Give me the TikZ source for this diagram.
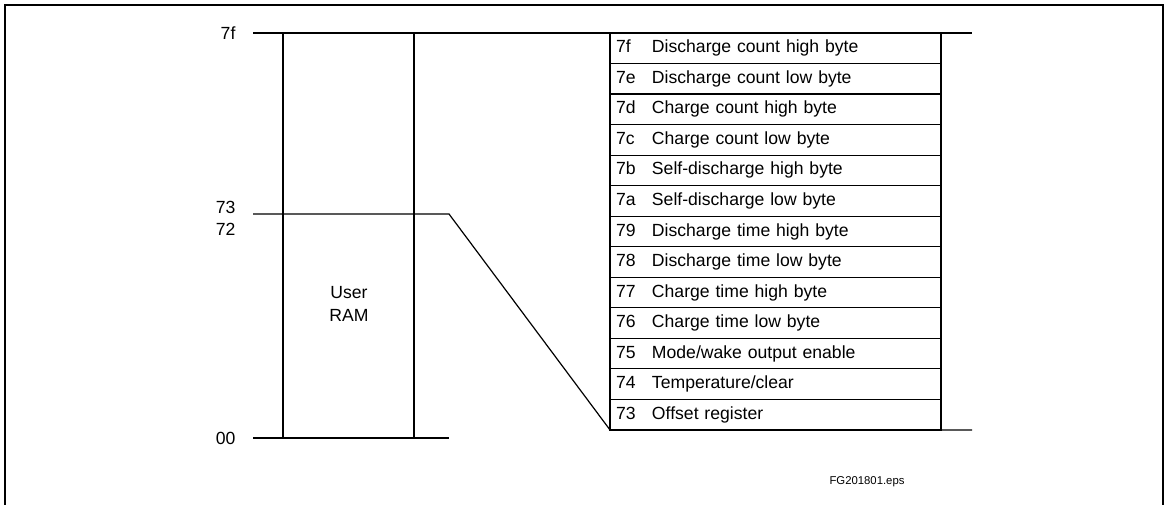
\documentclass[tikz,border=0pt]{standalone}
\usepackage{fontspec}
\setmainfont{Liberation Sans}
\usetikzlibrary{positioning}

\begin{document}
\begin{tikzpicture}[x=0.75pt,y=-0.75pt,line width=0.9pt,
    font=\fontsize{13.2}{17}\selectfont,
    addr/.style={anchor=east,inner sep=0pt},
    rowbox/.style={draw,anchor=north west,outer sep=0pt,inner xsep=4.5pt,
      minimum height=22.9pt,text width=239.25pt,align=left}]

    \useasboundingbox (0,0) rectangle (1168,505);
    \draw[line width=1.1pt] (5,505) -- (5,5) -- (1163,5) -- (1163,505);

    % register table
    \node[rowbox] (r1) at (610,33) {\makebox[27pt][l]{7f}Discharge count high byte};
    \foreach \code/\desc [count=\i from 2, remember=\i as \j (initially 1)] in {
        7e/Discharge count low byte, 7d/Charge count high byte,
        7c/Charge count low byte, 7b/Self-discharge high byte,
        7a/Self-discharge low byte, 79/Discharge time high byte,
        78/Discharge time low byte, 77/Charge time high byte,
        76/Charge time low byte, 75/Mode\slash wake output enable,
        74/Temperature\slash clear, 73/Offset register}
      \node[rowbox, below=0pt of r\j] (r\i) {\makebox[27pt][l]{\code}\desc};

    % memory map
    \coordinate (top) at (253,33);
    \coordinate (mid) at (253,214);
    \coordinate (bot) at (253,438);
    \coordinate (knee) at (449,214);
    \draw (top) -- (972,33);
    \draw (283,33) -- (283,438);
    \draw (414,33) -- (414,438);
    \draw (mid) -- (knee) -- (r13.south west) -- ++(362,0);
    \draw (bot) -- (449,438);

    \node[addr] (a7f) at (236,33) {7f};
    \node[addr] (a73) at (236,207) {73};
    \node[addr] (a72) at (236,229) {72};
    \node[addr] (a00) at (236,438) {00};
    \node[align=center] (ram) at (349,304) {User\\RAM};

    \node[font=\fontsize{8.5}{10}\selectfont] (fig) at (867,482) {FG201801.eps};
  \end{tikzpicture}
\end{document}
